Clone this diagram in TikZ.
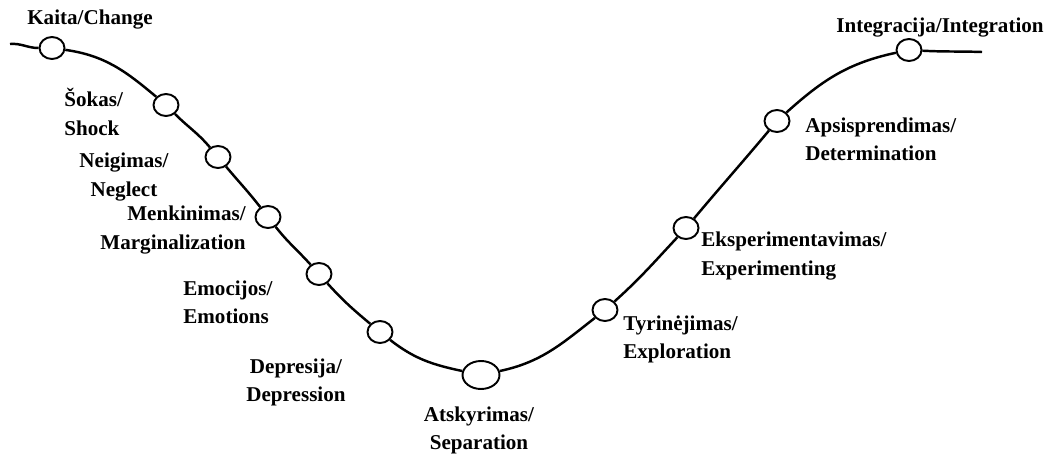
\documentclass[tikz,border=0pt]{standalone}
\usepackage{fontspec}
\setmainfont{Liberation Serif}
\usetikzlibrary{positioning,shapes.geometric}
\tikzset{
stage/.style={
draw,
ellipse,
line width=1.1pt,
fill=white,
inner sep=0pt,
minimum width=0.5cm,
minimum height=0.44cm
},
bigstage/.style={
stage,
minimum width=0.74cm,
minimum height=0.56cm
},
lbl/.style={
inner sep=0pt,
font=\bfseries\fontsize{12}{16}\selectfont
},
curve/.style={
line width=1.4pt
}
}
\begin{document}
\begin{tikzpicture}[x=0.02cm,y=0.02cm]
\useasboundingbox (0,0) rectangle (1047,-453);
\coordinate (s) at (10,-44);
\coordinate (t) at (982,-52);
\node[stage](ka) at (52,-48){};
\node[stage](so) at (166,-105){};
\node[stage](ne) at (218,-157){};
\node[stage](me) at (268,-217){};
\node[stage](em) at (319,-274){};
\node[stage](de) at (380,-332){};
\node[bigstage](at) at (481,-375){};
\node[stage](ty) at (605,-310){};
\node[stage](ek) at (686,-228){};
\node[stage](ap) at (777,-121){};
\node[stage](in) at (909,-50){};

\draw[curve](s) to[out=5,in=180] (ka);
\draw[curve](ka) to[out=-8,in=140] (so);
\draw[curve](so) to[out=-45,in=130] (ne);
\draw[curve](ne) to[out=-50,in=128] (me);
\draw[curve](me) to[out=-52,in=132] (em);
\draw[curve](em) to[out=-48,in=140] (de);
\draw[curve](de) to[out=-38,in=168] (at);
\draw[curve](at) to[out=12,in=-142] (ty);
\draw[curve](ty) to[out=42,in=-133] (ek);
\draw[curve](ek) to[out=50,in=-130] (ap);
\draw[curve](ap) to[out=42,in=-168] (in);
\draw[curve](in) to[out=-3,in=178] (t);

\node[lbl](kal) at (90,-20){Kaita/Change};
\node[lbl,anchor=west,align=left](sol) at (64,-112){Šokas/\\Shock};
\node[lbl,align=center](nel) at (124,-177){Neigimas/\\Neglect};
\node[lbl,anchor=east,align=right](mel) at (246,-230){Menkinimas/\\Marginalization};
\node[lbl,anchor=west,align=left](eml) at (183,-302){Emocijos/\\Emotions};
\node[lbl,align=center](del) at (296,-382){Depresija/\\Depression};
\node[lbl,align=center](atl) at (479,-430){Atskyrimas/\\Separation};
\node[lbl,anchor=west,align=left](tyl) at (623,-339){Tyrinėjimas/\\Exploration};
\node[lbl,anchor=west,align=left](ekl) at (701,-256){Eksperimentavimas/\\Experimenting};
\node[lbl,anchor=west,align=left](apl) at (805,-139){Apsisprendimas/\\Determination};
\node[lbl](inl) at (940,-28){Integracija/Integration};
\end{tikzpicture}
\end{document}
